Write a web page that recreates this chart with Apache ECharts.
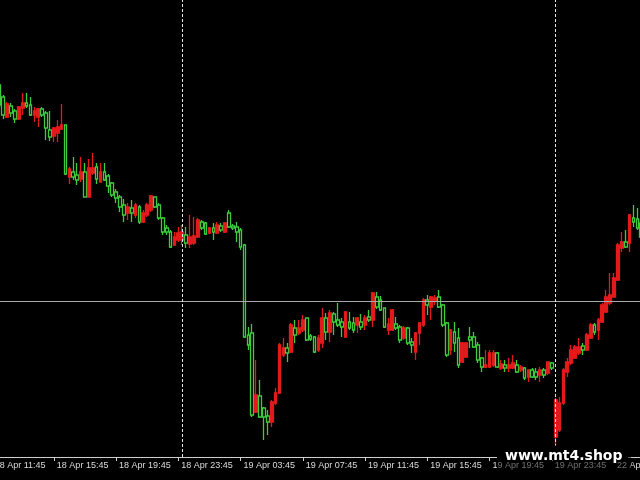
<!DOCTYPE html>
<html><head><meta charset="utf-8">
<script src="https://cdn.jsdelivr.net/npm/echarts@6/dist/echarts.min.js"></script>
<style>html,body{margin:0;padding:0;background:#000;}#c{width:640px;height:480px;}</style>
</head><body><div id="c"></div>
<script>
// M15 sessions shown on the time scale: [day label, first bar time, number of bars]
const sessions = [["18 Apr", "11:45", 49], ["19 Apr", "00:00", 96], ["22 Apr", "00:00", 23]];
const firstBar = "18 Apr 12:15";
const daySeparators = ["19 Apr 00:00", "22 Apr 00:00"];
const bidLevel = 156;

// candle values (price points)
const open = [372,360,340,351,346,338,349,354,352,342,340,348,344,327,321,324,328,332,280,285,
282,278,285,260,284,290,275,285,281,274,265,260,252,244,249,242,250,235,242,247,
260,252,239,229,225,212,217,217,222,213,214,220,235,234,224,229,224,231,225,244,
231,230,227,212,122,124,45,61,49,41,35,54,64,102,109,105,129,124,127,139,
121,120,107,114,139,125,143,137,135,120,135,134,132,135,132,140,137,160,157,149,
127,127,133,130,119,129,115,105,124,132,157,150,156,160,152,134,107,125,119,95,
100,120,120,112,99,90,90,92,104,89,92,89,89,92,87,89,80,87,85,82,
87,84,94,20,27,54,85,94,99,104,111,107,119,132,127,135,145,154,160,177,
209,215,214,239,238,234];
const close = [352,342,353,344,338,350,354,351,342,346,348,342,329,320,329,330,332,283,288,280,
277,285,260,289,289,278,285,277,271,262,259,250,242,250,244,252,235,244,252,261,
250,239,225,225,210,220,224,225,214,220,221,237,229,223,229,225,232,227,234,230,
229,225,210,120,112,42,62,40,40,35,55,64,112,109,104,132,122,129,137,117,
118,105,119,139,125,144,135,132,130,145,129,127,139,130,139,137,164,150,147,130,
133,147,129,117,129,114,112,124,134,157,152,160,159,150,132,102,127,114,92,114,
114,117,110,97,90,92,104,104,90,93,89,92,94,85,90,79,87,80,80,87,
82,95,89,57,54,87,95,107,110,110,107,122,132,125,137,152,160,162,179,212,
215,210,242,235,229,220];
const low = [349,338,339,340,334,337,342,349,341,335,330,340,317,316,315,315,327,282,273,277,
272,275,260,260,282,273,275,276,264,260,254,245,235,237,235,239,233,234,240,245,
249,237,222,222,209,211,215,212,209,209,212,219,227,222,223,217,223,225,224,229,
227,215,207,119,107,40,44,39,17,22,30,52,63,100,95,104,114,122,125,116,
116,104,105,109,117,115,122,130,120,119,127,124,124,127,127,135,130,148,146,129,
122,126,127,114,117,112,104,97,112,130,142,137,152,149,130,100,102,105,89,94,
99,109,109,94,85,89,89,90,89,87,85,85,88,84,85,77,75,79,77,75,
79,82,87,10,25,52,80,92,98,102,102,106,118,122,117,134,144,152,160,176,
205,209,205,230,227,219];
const high = [372,362,355,354,348,351,364,364,360,350,349,350,346,346,330,337,353,332,290,300,
294,300,294,298,304,294,294,294,283,275,268,262,258,254,257,254,252,247,254,262,
260,254,240,232,227,225,230,232,230,242,240,239,237,235,230,234,235,234,235,247,
233,235,229,213,130,133,97,77,50,47,57,69,114,119,114,134,137,137,142,139,
123,121,122,149,144,147,145,154,139,146,145,140,140,143,142,147,165,165,161,149,
139,148,140,132,131,130,119,125,135,159,162,161,162,167,153,135,128,135,129,115,
115,130,125,115,100,107,107,107,105,97,97,99,102,97,92,90,87,89,89,90,
89,95,95,59,60,89,99,112,112,119,114,124,134,134,139,154,167,184,184,214,
225,227,243,252,249,237];

// build category list
const categories = [];
sessions.forEach(([day, start, count]) => {
  let [h, m] = start.split(":").map(Number);
  for (let n = 0; n < count; n++) {
    categories.push(day + " " + String(h).padStart(2, "0") + ":" + String(m).padStart(2, "0"));
    m += 15; if (m >= 60) { m -= 60; h += 1; }
  }
});
const lead = categories.indexOf(firstBar);
const candles = [];
for (let k = 0; k < lead; k++) candles.push("-");
open.forEach((o, i) => candles.push([o, close[i], low[i], high[i]]));

const barStep = 3.89;
const chart = echarts.init(document.getElementById("c"), null, {renderer: "canvas", devicePixelRatio: 1});
chart.setOption({
  animation: false,
  backgroundColor: "#000000",
  grid: {left: -0.6 - (lead + 0.5) * barStep, top: 0, width: categories.length * barStep, height: 457,
    outerBoundsMode: "none", containLabel: false},
  xAxis: {
    type: "category", data: categories, boundaryGap: true,
    axisLine: {show: true, lineStyle: {color: "#cfcfcf", width: 1}},
    axisTick: {show: true, interval: 15, length: 4, alignWithLabel: true, lineStyle: {color: "#cfcfcf"}},
    axisLabel: {interval: 15, showMinLabel: true, align: "left", margin: 4,
      padding: [0, 0, 0, 3], color: "#dcdcdc", fontSize: 9, fontFamily: "Liberation Sans"},
    splitLine: {show: false}
  },
  yAxis: {type: "value", min: 0, max: 457, show: false, splitLine: {show: false}},
  series: [{
    type: "candlestick", data: candles, barWidth: 3.2,
    itemStyle: {color: "#e31a1c", color0: "#000000", borderColor: "#e31a1c", borderColor0: "#3ccc3c", borderWidth: 1.3},
    markLine: {
      silent: true, symbol: "none", label: {show: false},
      data: [
        {yAxis: bidLevel, lineStyle: {color: "#a9a9a9", type: "solid", width: 1}},
        ...daySeparators.map(d => ({xAxis: d, lineStyle: {color: "#e6e6e6", type: [3, 2], width: 1}}))
      ]
    }
  }],
  graphic: [
    {type: "rect", shape: {x: 497, y: 445, width: 134, height: 35}, style: {fill: "rgba(0,0,0,0.5)"}, z: 100},
    {type: "rect", shape: {x: 497, y: 446, width: 131, height: 14}, style: {fill: "#000"}, z: 101},
    {type: "text", x: 505, y: 456, style: {text: "www.mt4.shop", fill: "#ffffff", font: "bold 14px 'DejaVu Sans'", verticalAlign: "middle"}, z: 102}
  ]
});
</script></body></html>
